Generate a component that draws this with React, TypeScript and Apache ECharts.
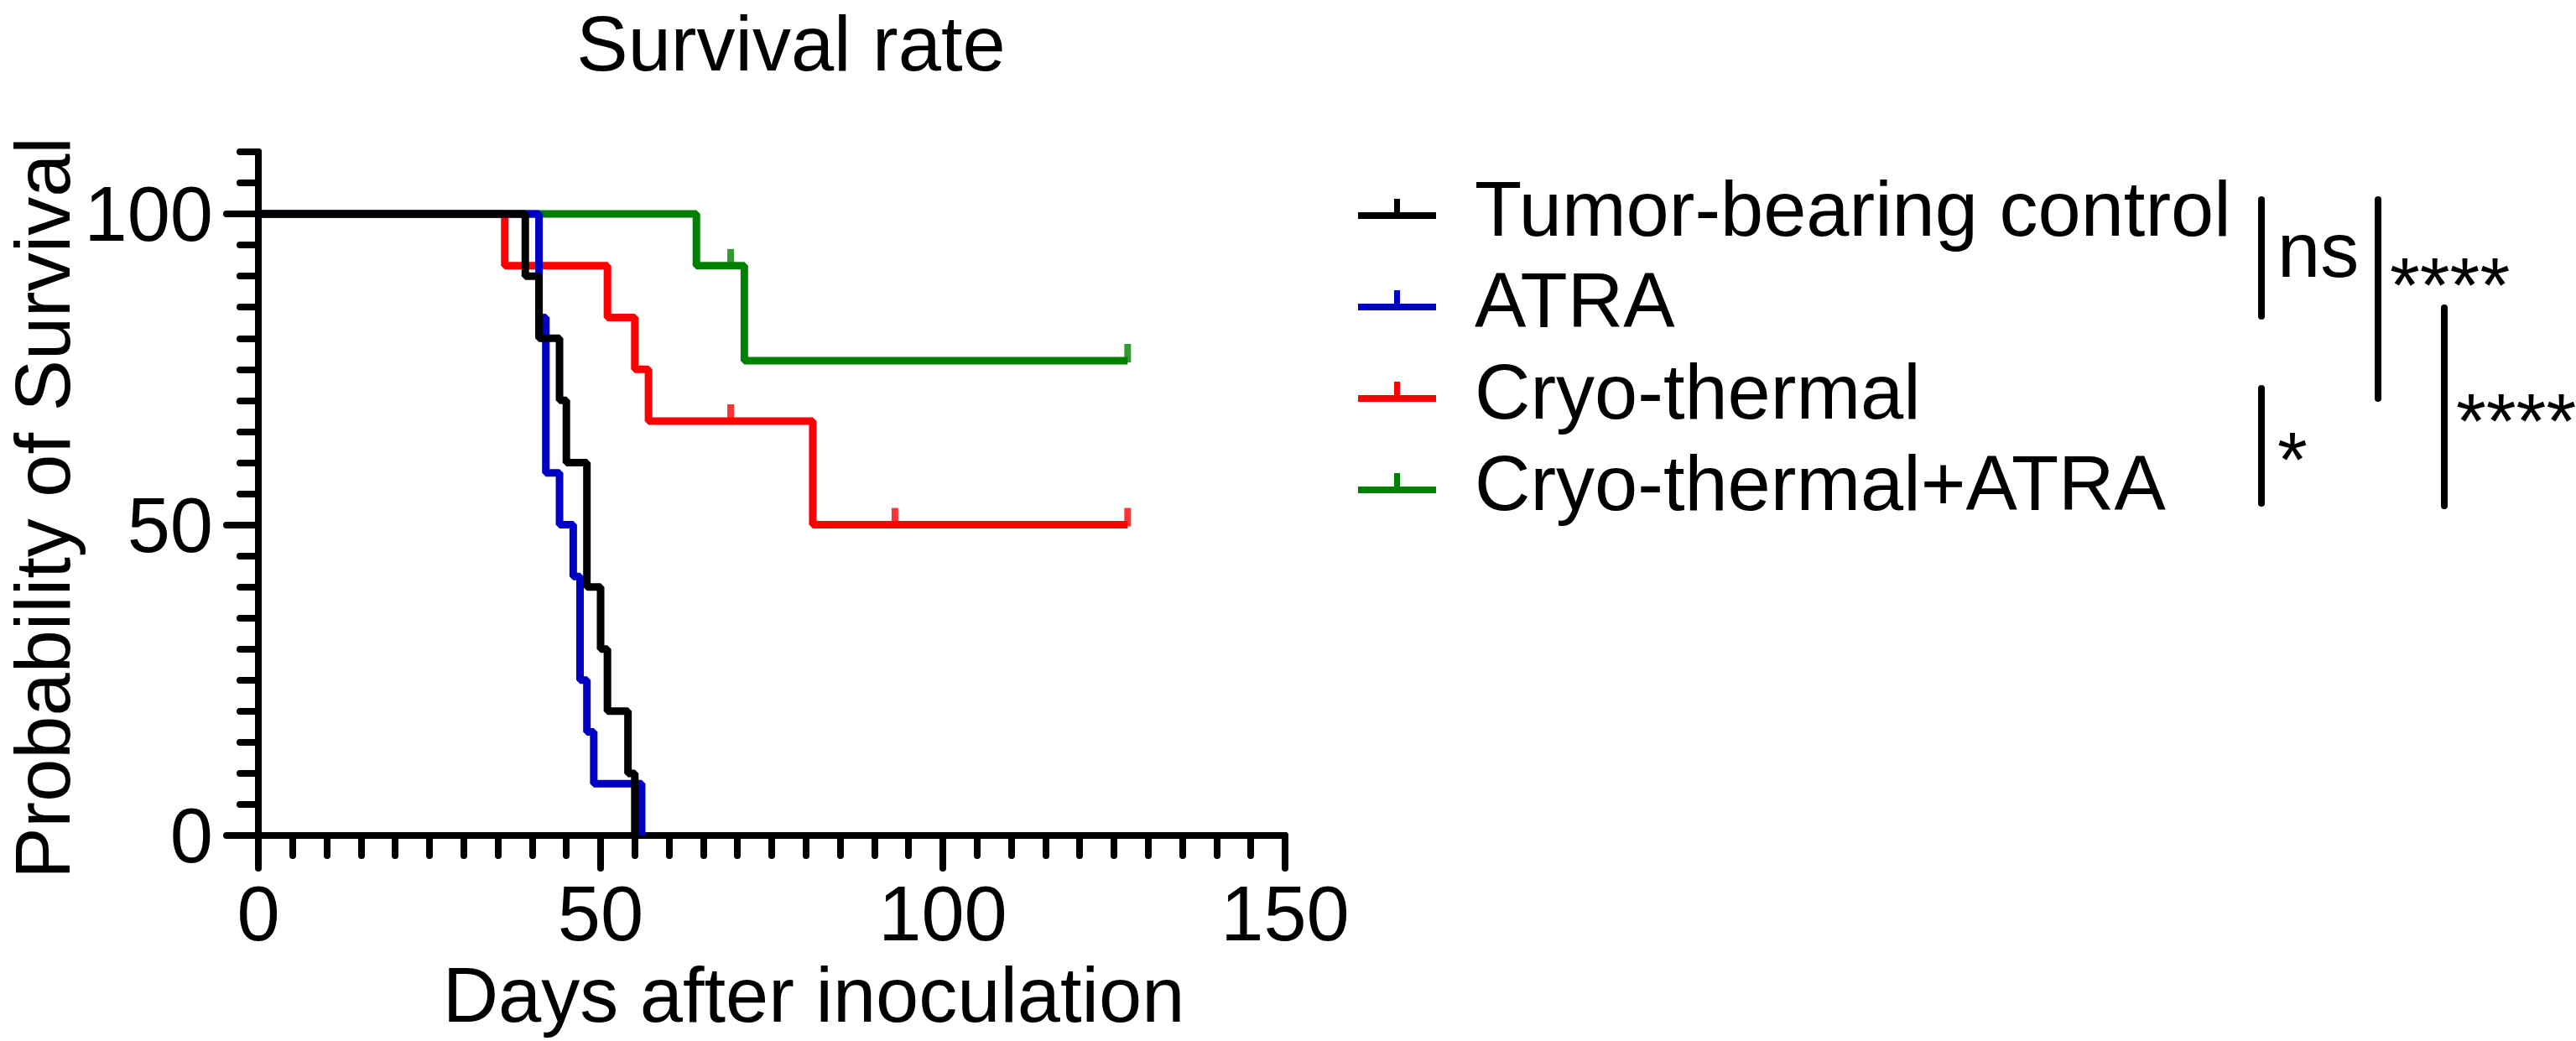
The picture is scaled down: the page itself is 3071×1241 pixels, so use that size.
import React, { useEffect, useRef } from 'react';
import * as echarts from 'echarts';

const FONT = '"Liberation Sans", Arial, Helvetica, sans-serif';

const groups = ['Tumor-bearing control', 'ATRA', 'Cryo-thermal', 'Cryo-thermal+ATRA'];
const colors = ['#000000', '#0000c4', '#ff0000', '#008000'];

const controlDays = [0, 39, 41, 44, 45, 48, 50, 51, 54, 55];
const controlSurvival = [100, 90, 80, 70, 60, 40, 30, 20, 10, 0];

const atraDays = [0, 41, 42, 44, 46, 47, 48, 49, 56];
const atraSurvival = [100, 83.33, 58.33, 50, 41.67, 25, 16.67, 8.33, 0];

const cryoDays = [0, 36, 51, 55, 57, 81, 127];
const cryoSurvival = [100, 91.67, 83.33, 75, 66.67, 50, 50];

const comboDays = [0, 64, 71, 127];
const comboSurvival = [100, 91.67, 76.39, 76.39];

const cryoCensorDays = [69, 93, 127];
const cryoCensorSurvival = [66.67, 50, 50];
const comboCensorDays = [69, 127];
const comboCensorSurvival = [91.67, 76.39];

const yLabelTicks = [0, 50, 100];
const yMinorTicks = [5, 10, 15, 20, 25, 30, 35, 40, 45, 55, 60, 65, 70, 75, 80, 85, 90, 95, 105, 110];

const sigLabels = ['ns', '****', '*', '****'];

const pairs = (xs: number[], ys: number[]) => xs.map((x, i) => [x, ys[i]]);

const legendIcon = 'path://M0,16L93,16L93,24L0,24Z M43,0L50,0L50,20L43,20Z';

function buildOption() {
  const curves = [
    pairs(controlDays, controlSurvival),
    pairs(atraDays, atraSurvival),
    pairs(cryoDays, cryoSurvival),
    pairs(comboDays, comboSurvival),
  ];
  const zs = [6, 5, 4, 3];
  const lineSeries = curves.map((d, i) => ({
    name: groups[i],
    type: 'line',
    step: 'end',
    data: d,
    symbol: 'none',
    z: zs[i],
    lineStyle: { color: colors[i], width: 9 },
    itemStyle: { color: colors[i] },
    silent: true,
  }));
  const censorSeries = [
    { name: 'Cryo-thermal censored', data: pairs(cryoCensorDays, cryoCensorSurvival), color: colors[2], z: 4 },
    { name: 'Cryo-thermal+ATRA censored', data: pairs(comboCensorDays, comboCensorSurvival), color: colors[3], z: 3 },
  ].map((s) => ({
    name: s.name,
    type: 'scatter',
    data: s.data,
    symbol: 'rect',
    symbolSize: [8, 22],
    symbolOffset: [0, -9],
    z: s.z,
    itemStyle: { color: s.color },
    silent: true,
  }));

  const textBase = { fontSize: 92, fontFamily: FONT, fill: '#000' };
  const bracket = (x: number, y1: number, y2: number) => ({
    type: 'line',
    shape: { x1: x, y1, x2: x, y2 },
    style: { stroke: '#000', lineWidth: 8, lineCap: 'round' },
    silent: true,
  });
  const sigText = (text: string, x: number, y: number) => ({
    type: 'text',
    x,
    y,
    style: { ...textBase, text, align: 'left', verticalAlign: 'middle' },
    silent: true,
  });

  return {
    animation: false,
    backgroundColor: '#ffffff',
    textStyle: { fontFamily: FONT },
    title: {
      text: 'Survival rate',
      left: 943,
      top: 15,
      padding: 0,
      textAlign: 'center',
      textStyle: { fontSize: 92, lineHeight: 74, fontWeight: 'normal', color: '#000', fontFamily: FONT },
    },
    legend: {
      orient: 'vertical',
      left: 1619,
      top: 203,
      padding: 0,
      itemWidth: 93,
      itemHeight: 24,
      itemGap: 17,
      selectedMode: false,
      data: groups.map((g) => ({ name: g, icon: legendIcon })),
      itemStyle: { borderWidth: 0 },
      textStyle: { fontSize: 92, color: '#000', fontFamily: FONT, padding: [0, 0, 0, 41] },
    },
    grid: { left: 308, right: 1539, top: 181, bottom: 245, containLabel: false },
    xAxis: {
      type: 'value',
      min: 0,
      max: 150,
      interval: 50,
      name: 'Days after inoculation',
      nameLocation: 'middle',
      nameGap: 144,
      nameTextStyle: { fontSize: 92, color: '#000', fontFamily: FONT, padding: [0, 0, 0, 100] },
      axisLine: { show: true, onZero: false, lineStyle: { color: '#000', width: 8, cap: 'round' } },
      axisTick: { show: true, length: 39, lineStyle: { color: '#000', width: 8, cap: 'round' } },
      minorTick: { show: true, splitNumber: 10, length: 24, lineStyle: { color: '#000', width: 8, cap: 'round' } },
      axisLabel: { fontSize: 92, color: '#000', fontFamily: FONT, margin: 47 },
      splitLine: { show: false },
      minorSplitLine: { show: false },
    },
    yAxis: [
      {
        type: 'value',
        min: 0,
        max: 110,
        position: 'left',
        name: 'Probability of Survival',
        nameLocation: 'middle',
        nameGap: 220,
        nameTextStyle: { fontSize: 92, lineHeight: 72, color: '#000', fontFamily: FONT, padding: [0, 34, 0, 0] },
        axisLine: { show: true, onZero: false, lineStyle: { color: '#000', width: 8, cap: 'round' } },
        axisTick: { show: true, length: 38, customValues: yLabelTicks, lineStyle: { color: '#000', width: 8, cap: 'round' } },
        axisLabel: { fontSize: 92, color: '#000', fontFamily: FONT, margin: 54, customValues: yLabelTicks },
        splitLine: { show: false },
      },
      {
        type: 'value',
        min: 0,
        max: 110,
        position: 'left',
        offset: 0,
        axisLine: { show: false },
        axisTick: { show: true, length: 22, customValues: yMinorTicks, lineStyle: { color: '#000', width: 8, cap: 'round' } },
        axisLabel: { show: false },
        splitLine: { show: false },
      },
    ],
    series: [...lineSeries, ...censorSeries],
    graphic: [
      bracket(2696, 238, 377),
      sigText(sigLabels[0], 2715, 298),
      bracket(2835, 238, 475),
      sigText(sigLabels[1], 2849, 340),
      bracket(2696, 463, 600),
      sigText(sigLabels[2], 2715, 548),
      bracket(2914, 367, 603),
      sigText(sigLabels[3], 2928, 502),
    ],
  };
}

export default function App() {
  const ref = useRef<HTMLDivElement>(null);
  useEffect(() => {
    if (!ref.current) return;
    const chart = echarts.init(ref.current, null, { renderer: 'svg' });
    chart.setOption(buildOption() as any);
    return () => chart.dispose();
  }, []);
  return (
    <div
      ref={ref}
      style={{ position: 'absolute', left: 0, top: 0, width: 3071, height: 1241, background: '#fff' }}
    />
  );
}
